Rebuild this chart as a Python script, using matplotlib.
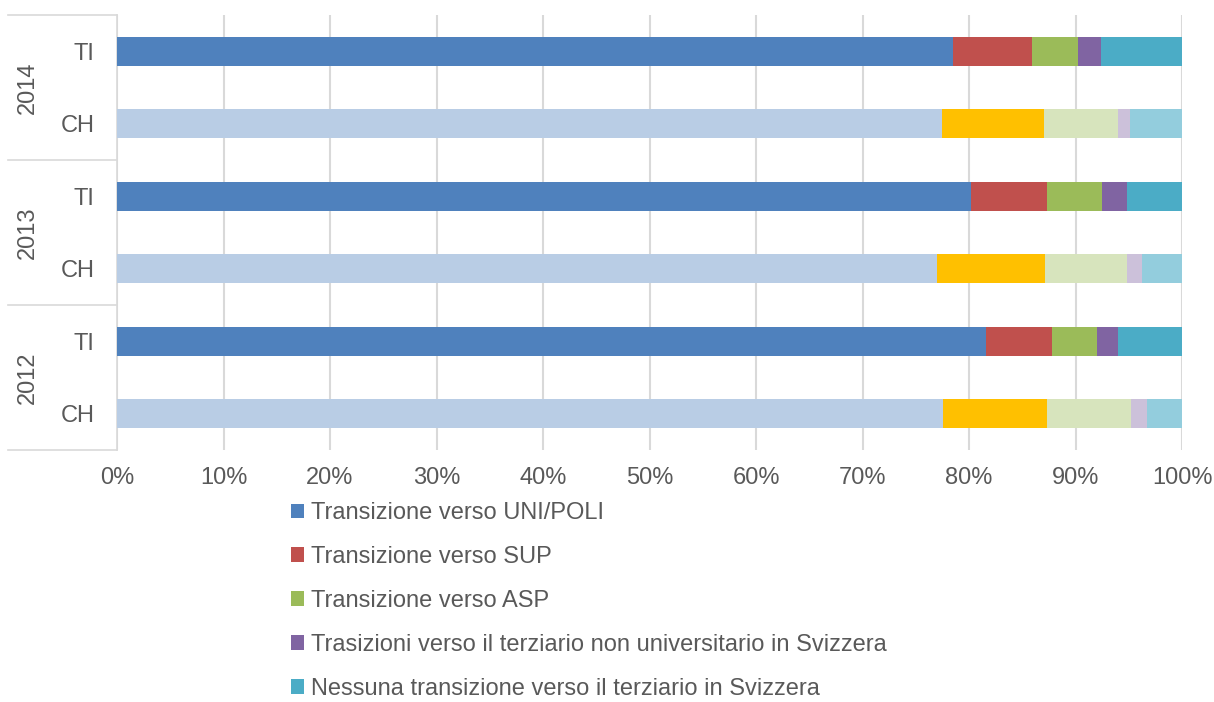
import numpy as np
import matplotlib.pyplot as plt
from matplotlib.patches import Patch

plt.rcParams['font.family'] = ['Liberation Sans', 'DejaVu Sans']

# data (percent shares), rows from top to bottom
rows = ['TI', 'CH', 'TI', 'CH', 'TI', 'CH']
years = ['2014', '2013', '2012']
series = [
    'Transizione verso UNI/POLI',
    'Transizione verso SUP',
    'Transizione verso ASP',
    'Trasizioni verso il terziario non universitario in Svizzera',
    'Nessuna transizione verso il terziario in Svizzera',
]
uni = [78.5, 77.5, 80.2, 77.0, 81.6, 77.6]
sup = [7.4, 9.5, 7.1, 10.1, 6.2, 9.7]
asp = [4.3, 7.0, 5.2, 7.7, 4.2, 7.9]
non_uni = [2.2, 1.1, 2.3, 1.4, 2.0, 1.5]
none_ = [7.6, 4.9, 5.2, 3.8, 6.0, 3.3]

ti_colors = ['#4F81BD', '#C0504D', '#9BBB59', '#8064A2', '#4BACC6']
ch_colors = ['#B9CDE5', '#FFC000', '#D7E4BD', '#CCC1DA', '#93CDDD']

text_color = '#595959'
grid_color = '#D9D9D9'
fs = 17

fig = plt.figure(figsize=(12.14, 7.02), dpi=100)
ax = fig.add_axes([117 / 1214, 1 - 450 / 702, 1065 / 1214, 435 / 702])

values = np.array([uni, sup, asp, non_uni, none_])
y = np.arange(len(rows))
left = np.zeros(len(rows))
for k in range(values.shape[0]):
    colors = [ti_colors[k] if r == 'TI' else ch_colors[k] for r in rows]
    ax.barh(y, values[k], left=left, height=0.4, color=colors,
            edgecolor='none', zorder=3)
    left += values[k]

ax.set_xlim(0, 100)
ax.set_ylim(5.5, -0.5)
ax.set_xticks(np.arange(0, 101, 10))
ax.set_xticklabels([f'{v}%' for v in range(0, 101, 10)])
ax.set_yticks(y)
ax.set_yticklabels(rows)
ax.tick_params(axis='x', length=0, pad=12, labelsize=fs, labelcolor=text_color)
ax.tick_params(axis='y', length=0, pad=16, labelsize=fs, labelcolor=text_color)
ax.grid(axis='x', color=grid_color, linewidth=1.5, zorder=0)
for s in ['top', 'right', 'bottom']:
    ax.spines[s].set_visible(False)
ax.spines['left'].set_color(grid_color)
ax.spines['left'].set_linewidth(1.2)

# year group labels and separators on the category axis
trans = ax.get_yaxis_transform()
x_sep = -109 / 1065
for b in [-0.5, 1.5, 3.5, 5.5]:
    ax.plot([x_sep, 0], [b, b], transform=trans, color=grid_color,
            linewidth=1.2, clip_on=False)
for i, yr in enumerate(years):
    ax.text(-89 / 1065, 2 * i + 0.5, yr, transform=trans, rotation=90,
            ha='center', va='center', fontsize=fs, color=text_color)

handles = [Patch(facecolor=c, edgecolor='none') for c in ti_colors]
fig.legend(handles, series, loc='upper left',
           bbox_to_anchor=(291 / 1214, 1 - 502 / 702), frameon=False,
           fontsize=fs, labelcolor=text_color, handlelength=0.55,
           handleheight=0.55, handletextpad=0.3, labelspacing=0.93,
           borderpad=0, borderaxespad=0)

fig.savefig('out.png', dpi=100)
